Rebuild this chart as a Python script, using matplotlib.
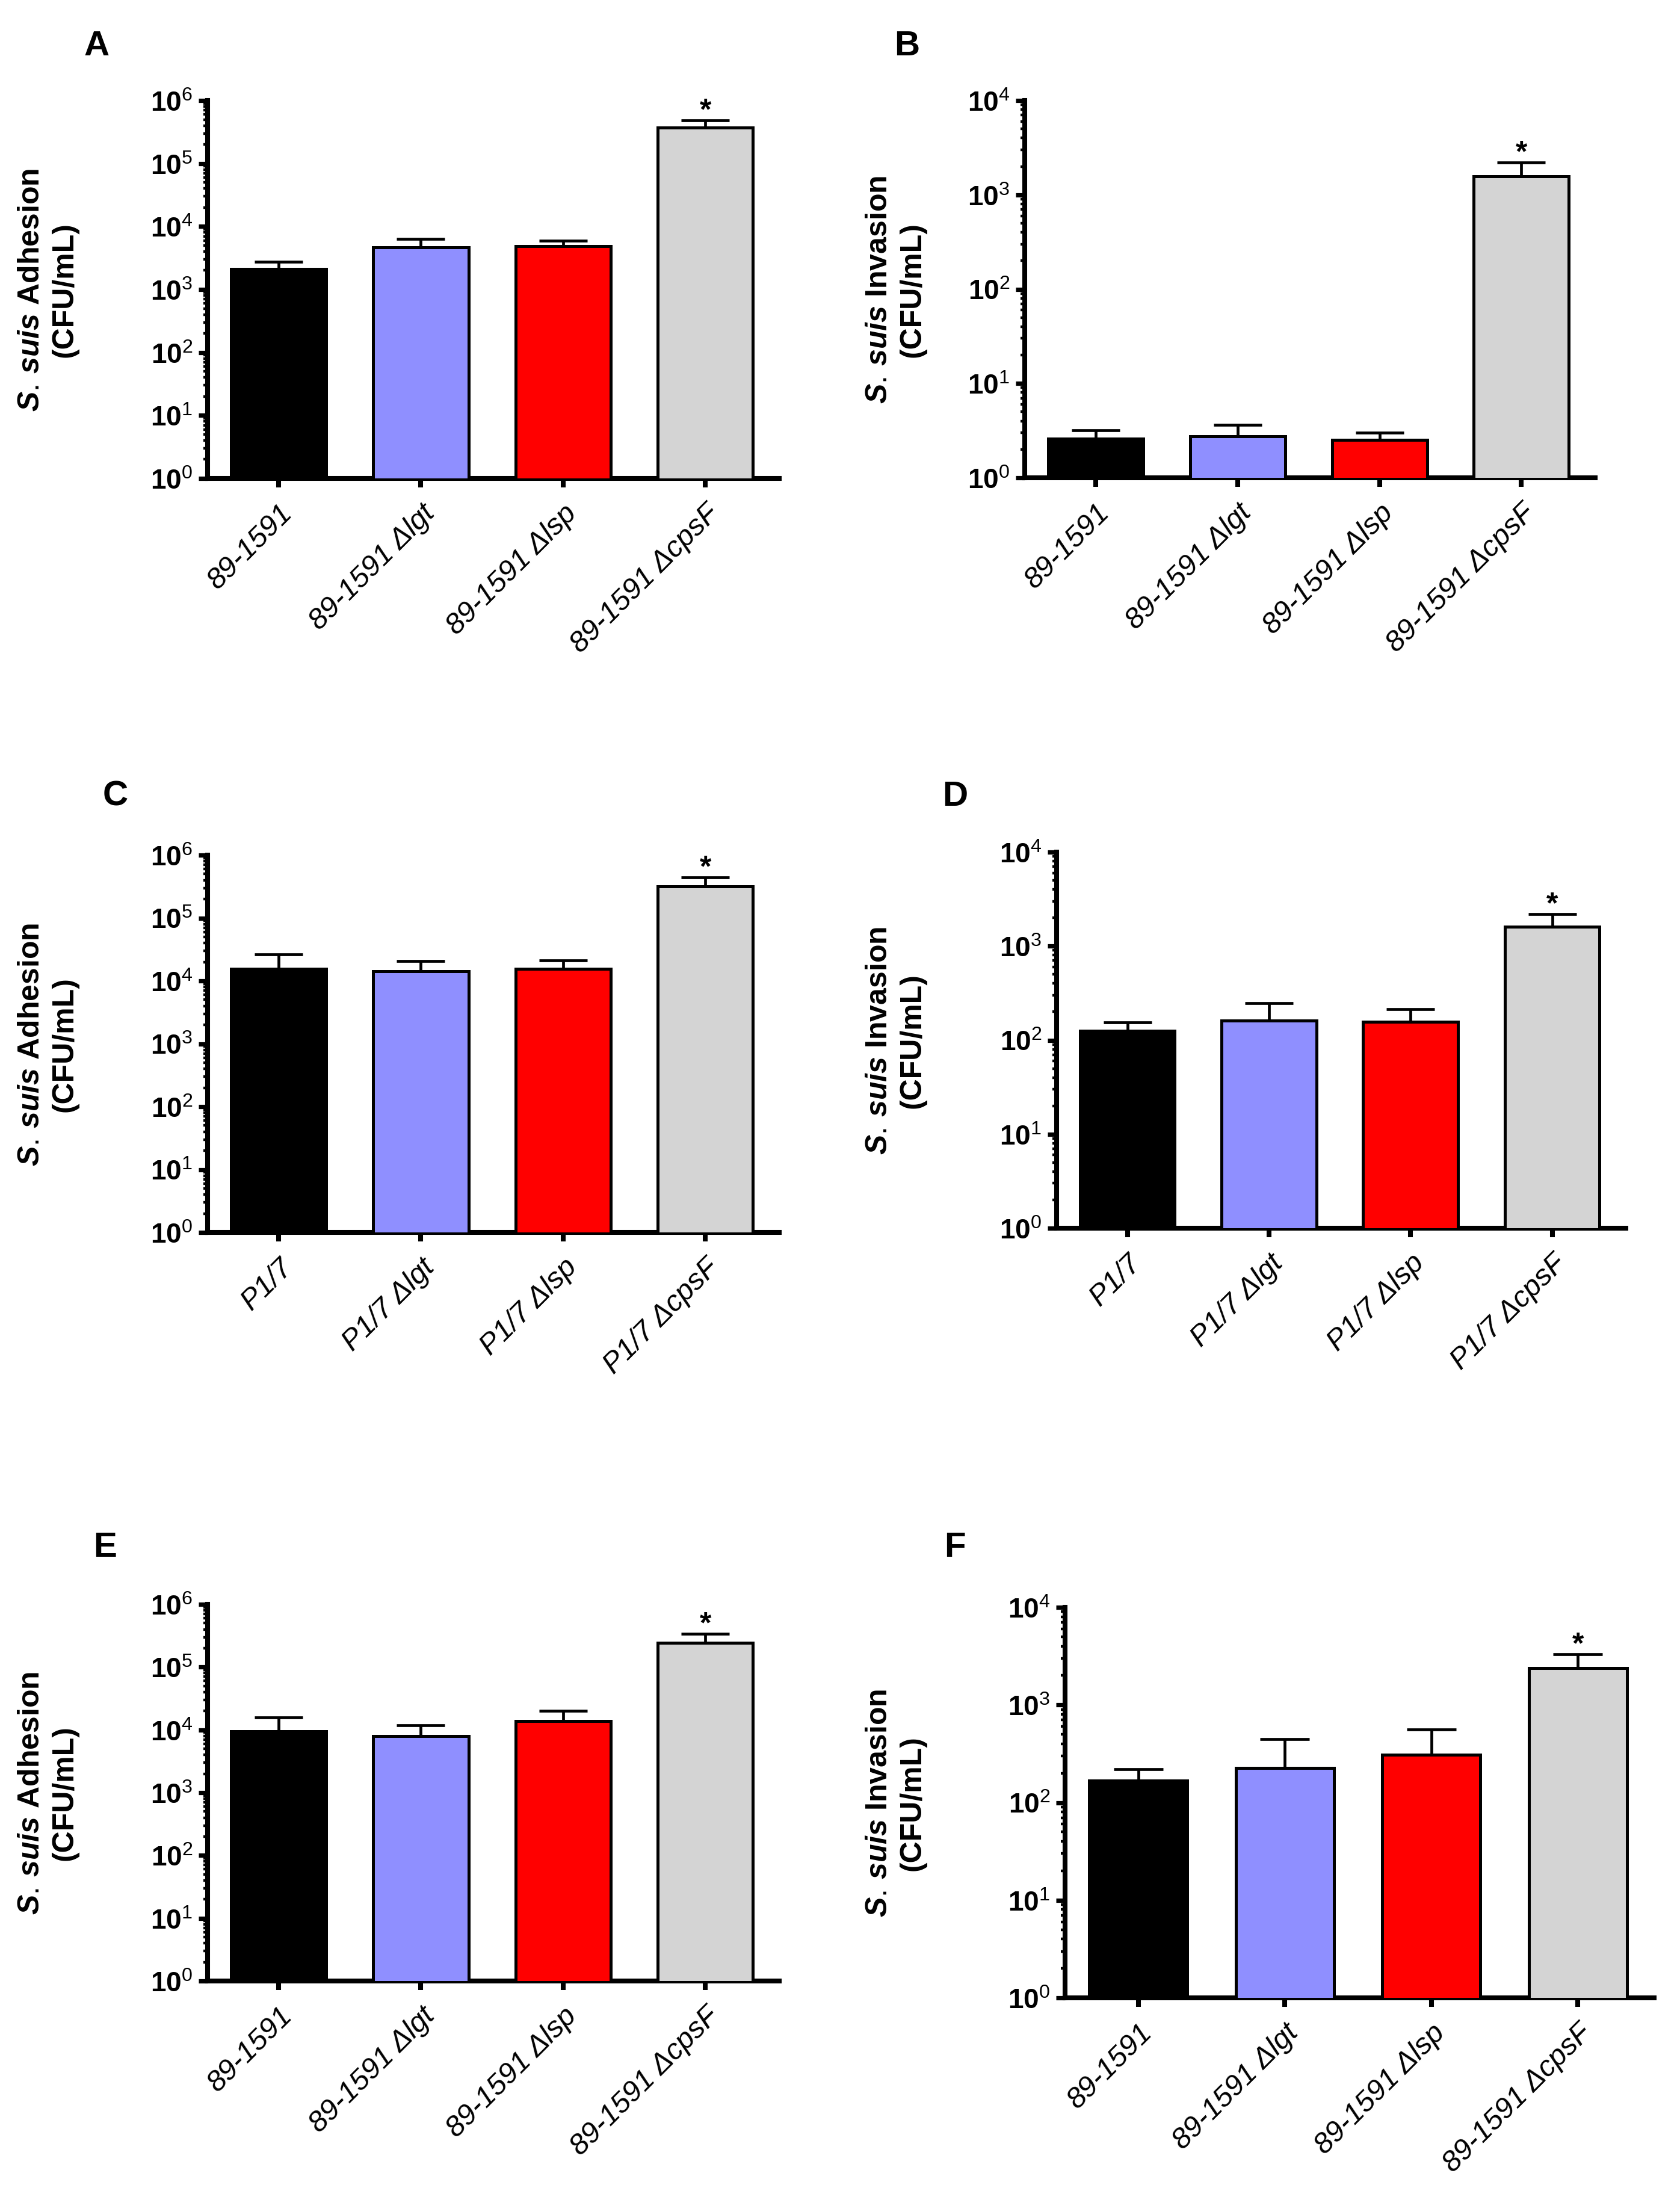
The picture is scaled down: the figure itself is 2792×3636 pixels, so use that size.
import numpy as np
import matplotlib
matplotlib.use('Agg')
import matplotlib.pyplot as plt
from matplotlib.ticker import LogLocator, FixedLocator, FuncFormatter, NullFormatter

plt.rcParams['font.family'] = ['Liberation Sans', 'DejaVu Sans']
plt.rcParams['mathtext.fontset'] = 'custom'
plt.rcParams['mathtext.rm'] = 'Liberation Sans'
plt.rcParams['mathtext.bf'] = 'Liberation Sans:bold'
plt.rcParams['mathtext.it'] = 'Liberation Sans:italic:bold'

# strain labels
labels_89 = ['89-1591', '89-1591 Δlgt', '89-1591 Δlsp', '89-1591 ΔcpsF']
labels_p17 = ['P1/7', 'P1/7 Δlgt', 'P1/7 Δlsp', 'P1/7 ΔcpsF']
bar_colors = ['#000000', '#8f8fff', '#ff0000', '#d4d4d4']

# CFU/mL means and SEM
a_mean = [2100, 4700, 4900, 370000]
a_sem = [650, 1600, 1100, 110000]
b_mean = [2.6, 2.75, 2.53, 1580]
b_sem = [0.6, 0.88, 0.47, 610]
c_mean = [15500, 14300, 15500, 315000]
c_sem = [11100, 6400, 5500, 125000]
d_mean = [125, 161, 156, 1600]
d_sem = [29, 85, 59, 590]
e_mean = [9550, 8000, 13800, 245000]
e_sem = [6150, 3800, 6400, 92000]
f_mean = [167, 225, 310, 2400]
f_sem = [54, 219, 247, 900]

W, H, DPI = 2792, 3637, 200
fig = plt.figure(figsize=(W / DPI, H / DPI), dpi=DPI)


def px_rect(x0, x1, top, bottom):
    return [x0 / W, 1 - bottom / H, (x1 - x0) / W, (bottom - top) / H]


def draw_panel(rect, letter, letter_xy, ylab_x, labels, means, sems, top_exp, kind):
    ax = fig.add_axes(px_rect(*rect))
    xlim = (-0.5, 3.52)
    x = np.arange(len(labels))
    ax.set_yscale('log')
    ax.set_ylim(1, 10 ** top_exp)
    ax.set_xlim(*xlim)

    # cap spans half the bar width
    spacing_px = (rect[1] - rect[0]) / (xlim[1] - xlim[0])
    cap = 0.17 * spacing_px * 72 / DPI

    ax.bar(x, means, width=0.67, color=bar_colors, edgecolor='black',
           linewidth=1.8, zorder=3)
    ax.errorbar(x, means, yerr=[np.zeros(len(means)), sems], fmt='none',
                ecolor='black', elinewidth=1.7, capsize=cap, capthick=1.7,
                zorder=2)
    ax.annotate('*', xy=(x[-1], means[-1] + sems[-1]), xytext=(0, 1),
                textcoords='offset points', ha='center', va='baseline',
                fontsize=18, fontweight='bold')

    for s in ['top', 'right']:
        ax.spines[s].set_visible(False)
    for s in ['left', 'bottom']:
        ax.spines[s].set_linewidth(2.9)

    ax.yaxis.set_major_locator(FixedLocator([10 ** k for k in range(top_exp + 1)]))
    ax.yaxis.set_minor_locator(LogLocator(base=10, subs=np.arange(2, 10), numticks=20))
    ax.yaxis.set_minor_formatter(NullFormatter())
    ax.yaxis.set_major_formatter(FuncFormatter(
        lambda v, p: r'$\mathbf{10}^{\mathrm{%d}}$' % int(round(np.log10(v)))))
    ax.tick_params(axis='y', which='major', direction='out', length=5.4,
                   width=2.6, pad=3.5, labelsize=16.5)
    ax.tick_params(axis='y', which='minor', direction='out', length=2.6, width=1.6)
    ax.tick_params(axis='x', which='major', direction='out', length=5.4,
                   width=2.9, pad=7)
    ax.set_xticks(x)
    ax.set_xticklabels(labels, rotation=45, ha='right', rotation_mode='anchor',
                       fontstyle='italic', fontsize=17.5)

    fig.text(letter_xy[0] / W, 1 - letter_xy[1] / H, letter, fontsize=21,
             fontweight='bold', ha='center', va='center')
    yc = 1 - (rect[2] + rect[3]) / 2 / H
    fig.text(ylab_x / W, yc, r'$S.\,suis$ ' + kind + '\n(CFU/mL)', rotation=90,
             fontsize=18, fontweight='bold', ha='center', va='center',
             multialignment='center', linespacing=1.25)
    return ax


draw_panel((345, 1295, 168, 796), 'A', (161, 77), 80, labels_89, a_mean, a_sem, 6, 'Adhesion')
draw_panel((1703, 2651, 168, 795), 'B', (1507, 77), 1489, labels_89, b_mean, b_sem, 4, 'Invasion')
draw_panel((345, 1295, 1422, 2049), 'C', (192, 1324), 80, labels_p17, c_mean, c_sem, 6, 'Adhesion')
draw_panel((1756, 2702, 1417, 2042), 'D', (1587, 1324), 1489, labels_p17, d_mean, d_sem, 4, 'Invasion')
draw_panel((345, 1295, 2667, 3293), 'E', (175, 2572), 80, labels_89, e_mean, e_sem, 6, 'Adhesion')
draw_panel((1770, 2749, 2672, 3321), 'F', (1587, 2572), 1489, labels_89, f_mean, f_sem, 4, 'Invasion')

fig.savefig('out.png', dpi=DPI)
